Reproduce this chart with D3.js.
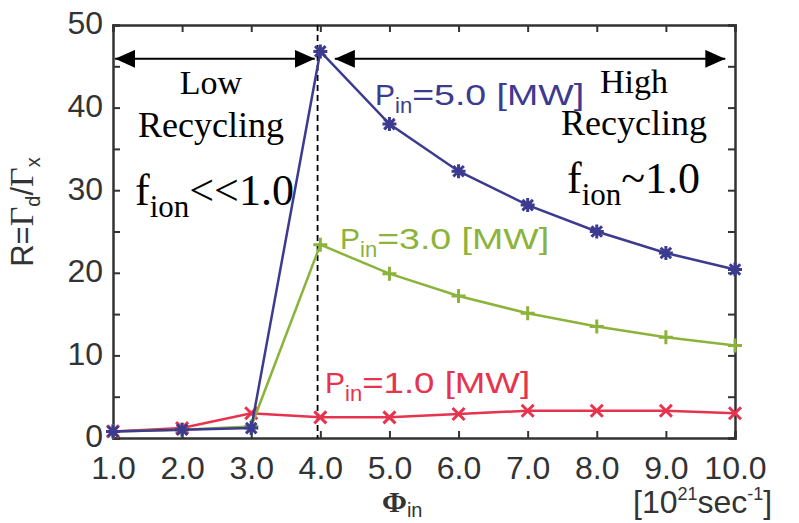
<!DOCTYPE html>
<html>
<head>
<meta charset="utf-8">
<script src="https://cdn.jsdelivr.net/npm/d3@7/dist/d3.min.js"></script>
<style>
  body { margin: 0; background: #fff; }
  svg text { font-family: "Liberation Sans", Arial, sans-serif; }
  .serif { font-family: "Liberation Serif", "Times New Roman", serif; }
</style>
</head>
<body>
<div id="chart"></div>
<script>
// data
const flux = [1, 2, 3, 4, 5, 6, 7, 8, 9, 10];
const r5MW = [0.8, 1.0, 1.2, 46.8, 38.0, 32.3, 28.2, 25.0, 22.4, 20.4];
const r3MW = [0.8, 1.0, 1.4, 23.4, 19.9, 17.2, 15.1, 13.5, 12.2, 11.2];
const r1MW = [0.8, 1.2, 3.0, 2.5, 2.5, 2.9, 3.3, 3.3, 3.3, 3.0];
const xTicks = ["1.0", "2.0", "3.0", "4.0", "5.0", "6.0", "7.0", "8.0", "9.0", "10.0"];
const yTicks = [0, 10, 20, 30, 40, 50];
const boundary = 3.96;   // dashed line, low / high recycling

const BLUE = "#3c3b8f";
const GREEN = "#8cb33b";
const RED = "#e6334e";
const AXIS = "#333";

let width = 799, height = 523;
let margin = {left: 113, right: 64, top: 25, bottom: 85};

let svg = d3.select("#chart").append("svg")
    .attr("width", width)
    .attr("height", height);

let x = d3.scaleLinear().domain([1, 10]).range([margin.left, width - margin.right]);
let y = d3.scaleLinear().domain([0, 50]).range([height - margin.bottom, margin.top]);

let defs = svg.append("defs");
defs.append("marker")
    .attr("id", "head")
    .attr("viewBox", "0 0 20 18")
    .attr("refX", 20).attr("refY", 9)
    .attr("markerWidth", 20).attr("markerHeight", 18)
    .attr("markerUnits", "userSpaceOnUse")
    .attr("orient", "auto-start-reverse")
  .append("path")
    .attr("d", "M0,0 L20,9 L0,18 Z")
    .attr("fill", "#000");

// axes, ticks pointing inward
let minor = d3.range(0, 51, 5);
svg.append("g")
    .attr("transform", `translate(0,${y(0)})`)
    .call(d3.axisBottom(x).tickValues(flux).tickSize(-7).tickFormat((d, i) => xTicks[i]).tickPadding(18));
svg.append("g")
    .attr("transform", `translate(0,${y(50)})`)
    .call(d3.axisTop(x).tickValues(flux).tickSize(-7).tickFormat(""));
svg.append("g")
    .attr("class", "yaxis")
    .attr("transform", `translate(${x(1)},0)`)
    .call(d3.axisLeft(y).tickValues(minor).tickSize(-7).tickFormat(d => yTicks.includes(d) ? d : "").tickPadding(10));
svg.append("g")
    .attr("transform", `translate(${x(10)},0)`)
    .call(d3.axisRight(y).tickValues(minor).tickSize(-7).tickFormat(""));

svg.selectAll(".domain").attr("stroke", AXIS).attr("stroke-width", 2.5);
svg.selectAll(".tick line").attr("stroke", AXIS).attr("stroke-width", 2);
svg.selectAll(".tick text")
    .attr("fill", "#333")
    .style("font-size", "32px")
    .style("font-family", "'Liberation Sans', Arial, sans-serif");
svg.selectAll(".yaxis .tick text").attr("dy", "0.28em");

// dashed boundary
svg.append("line")
    .attr("x1", x(boundary)).attr("x2", x(boundary))
    .attr("y1", y(50)).attr("y2", y(0))
    .attr("stroke", "#000")
    .attr("stroke-width", 1.8)
    .attr("stroke-dasharray", "6,4");

// series
let series = [
  {vals: r1MW, color: RED, mark: "x"},
  {vals: r3MW, color: GREEN, mark: "+"},
  {vals: r5MW, color: BLUE, mark: "*"}
];
let line = d3.line().x((d, i) => x(flux[i])).y(d => y(d));

function markPath(kind, s) {
  if (kind === "+") return `M${-s},0 L${s},0 M0,${-s} L0,${s}`;
  if (kind === "x") return `M${-s},${-s} L${s},${s} M${-s},${s} L${s},${-s}`;
  return `M${-s},0 L${s},0 M0,${-s} L0,${s} M${-s*0.75},${-s*0.75} L${s*0.75},${s*0.75} M${-s*0.75},${s*0.75} L${s*0.75},${-s*0.75}`;
}

series.forEach(function(sr) {
  svg.append("path")
      .datum(sr.vals)
      .attr("d", line)
      .attr("fill", "none")
      .attr("stroke", sr.color)
      .attr("stroke-width", 2.5);
  svg.append("g").selectAll("path")
      .data(sr.vals)
      .enter()
      .append("path")
      .attr("transform", (d, i) => `translate(${x(flux[i])},${y(d)})`)
      .attr("d", markPath(sr.mark, sr.mark === "x" ? 6 : 7))
      .attr("stroke", sr.color)
      .attr("stroke-width", 3)
      .attr("fill", "none");
});

// series labels
function pinLabel(px, py, val, color, len) {
  let t = svg.append("text")
      .attr("x", px).attr("y", py)
      .attr("fill", color)
      .style("font-size", "30px");
  t.append("tspan").text("P");
  t.append("tspan").attr("dy", 8).style("font-size", "22px").text("in");
  t.append("tspan").attr("dy", -8)
      .attr("textLength", len).attr("lengthAdjust", "spacingAndGlyphs")
      .text("=" + val + " [MW]");
}
pinLabel(375, 105, "5.0", BLUE, 172);
pinLabel(340, 249, "3.0", GREEN, 172);
pinLabel(325, 393, "1.0", RED, 168);

// regime arrows
let arrowY = y(45.9);
svg.append("line")
    .attr("x1", x(1.03)).attr("x2", x(boundary - 0.04))
    .attr("y1", arrowY).attr("y2", arrowY)
    .attr("stroke", "#000").attr("stroke-width", 2)
    .attr("marker-start", "url(#head)").attr("marker-end", "url(#head)");
svg.append("line")
    .attr("x1", x(4.21)).attr("x2", x(9.86))
    .attr("y1", arrowY).attr("y2", arrowY)
    .attr("stroke", "#000").attr("stroke-width", 2)
    .attr("marker-start", "url(#head)").attr("marker-end", "url(#head)");

function serif(tx, ty, str, size, anchor) {
  return svg.append("text").attr("class", "serif")
      .attr("x", tx).attr("y", ty)
      .attr("text-anchor", anchor || "start")
      .attr("fill", "#000")
      .style("font-size", size + "px")
      .text(str);
}
serif(211, 94, "Low", 34, "middle");
serif(211, 137, "Recycling", 36, "middle");
let f1 = serif(135, 205, "", 44);
f1.append("tspan").text("f");
f1.append("tspan").attr("dy", 12).style("font-size", "31px").text("ion");
f1.append("tspan").attr("dy", -12).text("<<1.0");

serif(634, 93, "High", 34, "middle");
serif(634, 135, "Recycling", 36, "middle");
let f2 = serif(567, 193, "", 44);
f2.append("tspan").text("f");
f2.append("tspan").attr("dy", 12).style("font-size", "31px").text("ion");
f2.append("tspan").attr("dy", -12).text("~1.0");

// axis titles
let yl = svg.append("text")
    .attr("transform", "translate(33,212) rotate(-90)")
    .attr("text-anchor", "middle")
    .attr("fill", "#333")
    .style("font-size", "31px");
yl.append("tspan").text("R=");
yl.append("tspan").attr("class", "serif").style("font-size", "34px").text("Γ");
yl.append("tspan").attr("dy", 7).style("font-size", "20px").text("d");
yl.append("tspan").attr("dy", -7).text("/");
yl.append("tspan").attr("class", "serif").style("font-size", "34px").text("Γ");
yl.append("tspan").attr("dy", 7).style("font-size", "20px").text("x");

let xl = svg.append("text").attr("class", "serif")
    .attr("x", 382).attr("y", 512)
    .attr("fill", "#333")
    .style("font-size", "30px")
    .style("font-weight", "bold");
xl.append("tspan").text("Φ");
xl.append("tspan").attr("dy", 5).style("font-size", "20px").style("font-weight", "normal")
    .style("font-family", "'Liberation Sans', Arial, sans-serif").text("in");

let ul = svg.append("text")
    .attr("x", 633).attr("y", 513)
    .attr("fill", "#333")
    .style("font-size", "32px");
ul.append("tspan").text("[10");
ul.append("tspan").attr("dy", -13).style("font-size", "18px").text("21");
ul.append("tspan").attr("dy", 13).text("sec");
ul.append("tspan").attr("dy", -13).style("font-size", "18px").text("-1");
ul.append("tspan").attr("dy", 13).text("]");
</script>
</body>
</html>
